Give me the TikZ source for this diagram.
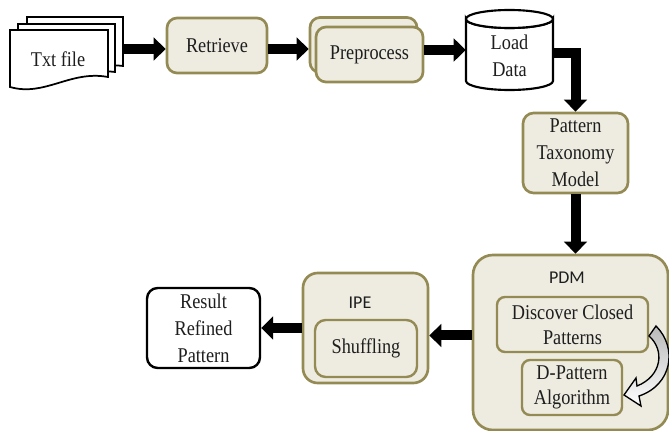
\documentclass[tikz,border=0pt]{standalone}
\usepackage{fontspec}
\setmainfont[FakeStretch=0.87]{Liberation Serif}
\newfontfamily\calfont{Carlito}
\usetikzlibrary{arrows.meta,calc}
\definecolor{boxfill}{HTML}{EEECE1}
\definecolor{boxdraw}{HTML}{948A54}
\definecolor{txtc}{HTML}{1E1E1E}
\begin{document}
\begin{tikzpicture}[x=0.75pt,y=-0.75pt,
  font=\fontsize{15.75pt}{20.25pt}\selectfont, text=txtc,
  sz/.style 2 args={minimum width=#1*0.75pt, minimum height=#2*0.75pt, inner sep=0pt},
  tanbox/.style={draw=boxdraw, fill=boxfill, line width=2pt, align=center},
  innerbox/.style={draw=boxdraw, fill=boxfill, line width=1.8pt, align=center},
  plainbox/.style={draw=black, fill=white, line width=1.8pt, align=center},
  page/.style={draw=black, fill=white, line width=1.3pt},
  bigarrow/.style={line width=7.5pt, -{Triangle[width=17pt,length=9pt]}},
  lbl/.style={font=\calfont\fontsize{13.5pt}{16pt}\selectfont}]
\useasboundingbox (0,0) rectangle (669,431);

% Txt file (document stack)
\draw[page] (27,17) -- (123,17) -- (123,66) .. controls (100,62) and (60,84) .. (27,74) -- cycle;
\draw[page] (18,24) -- (115,24) -- (115,72) .. controls (92,68) and (52,90) .. (18,81) -- cycle;
\draw[page] (10,30) -- (108,30) -- (108,77) .. controls (70,70) and (45,97) .. (10,87) -- cycle;
\node[sz={113}{71}] (txt) at (66.5,52.5) {};
\node (txtlbl) at (58,59) {Txt file};

% Retrieve
\node[tanbox, sz={100}{55}, rounded corners=7.5pt] (ret) at (217,45.5) {Retrieve};

% Preprocess (stacked)
\node[tanbox, sz={107}{55}, rounded corners=7.5pt] (prepback) at (363.5,45) {};
\node[tanbox, sz={107}{55}, rounded corners=7.5pt] (prep) at (369.5,54.5) {Preprocess};

% Load Data cylinder
\draw[fill=white, line width=1.6pt] (466,19) -- (466,81)
  arc[start angle=180, end angle=0, x radius=43.5, y radius=9] -- (553,19)
  arc[start angle=0, end angle=180, x radius=43.5, y radius=9] -- cycle;
\draw[fill=white, line width=1.6pt] (509.5,19) ellipse[x radius=43.5, y radius=9];
\node[sz={87}{80}] (load) at (509.5,50) {};
\node[align=center] (loadtxt) at (509.5,56) {Load\\Data};

% Pattern Taxonomy Model
\node[tanbox, sz={105}{80}, rounded corners=8pt] (ptm) at (575.5,153) {Pattern\\Taxonomy\\Model};

% PDM
\node[tanbox, sz={195}{175}, rounded corners=15pt] (pdm) at (570.5,342.5) {};
\node[lbl] (pdmlbl) at (567,278) {PDM};
\node[innerbox, sz={151}{55}, rounded corners=6pt, font=\fontsize{15.75pt}{18.75pt}\selectfont] (disc) at (572.5,324.5) {Discover Closed\\Patterns};
\node[innerbox, sz={100}{55}, rounded corners=6pt, font=\fontsize{15.75pt}{18.75pt}\selectfont] (dpat) at (572,387.5) {D-Pattern\\Algorithm};

% curved hollow arrow
\draw[line width=1pt, top color=gray!55, bottom color=white]
  (656,326) .. controls (678,348) and (672,385) .. (639,396)
  -- (641,406) -- (624,395) -- (636,378) -- (637,386)
  .. controls (662,376) and (665,350) .. (649,336) -- cycle;

% IPE
\node[tanbox, sz={125}{110}, rounded corners=11pt] (ipe) at (365.5,328) {};
\node[lbl] (ipelbl) at (360,303) {IPE};
\node[innerbox, sz={102}{57}, rounded corners=8pt] (shuf) at (366,348.5) {Shuffling};

% Result
\node[plainbox, sz={113}{80}, rounded corners=8pt] (res) at (203.5,328) {Result\\Refined\\Pattern};

% connectors
\draw[bigarrow] (txt.east |- 0,49) -- (ret.west |- 0,49);
\draw[bigarrow] (ret.east |- 0,49) -- (prepback.west |- 0,49);
\draw[bigarrow] (prep.east |- load.west) -- (load.west);
\draw[bigarrow] ($(load.east)+(0,3)$) -| (ptm.north);
\draw[bigarrow] (ptm.south) -- (ptm.south |- pdm.north);
\draw[bigarrow] ($(pdm.west)+(0,-7)$) -- ($(pdm.west -| ipe.east)+(0,-7)$);
\draw[bigarrow] (ipe.west |- res.east) -- (res.east);
\end{tikzpicture}
\end{document}
